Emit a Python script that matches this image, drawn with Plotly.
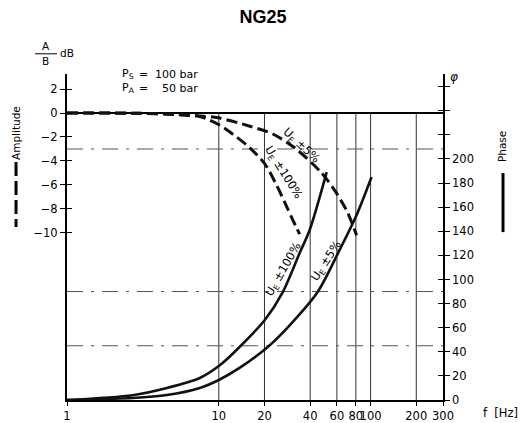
import numpy as np
import plotly.graph_objects as go

# amplitude curves, dB
f_amp_5 = [1, 3, 5, 7.5, 9.9, 16, 22.7, 31.6, 47.6, 59.8, 70.6, 80.9]
db_amp_5 = [0, -0.02, -0.1, -0.25, -0.4, -1.1, -1.75, -2.9, -5.0, -6.7, -8.3, -10.2]
f_amp_100 = [1, 3, 5, 7.5, 10.1, 13.1, 16, 20, 24, 28, 30.7, 34.1]
db_amp_100 = [0, -0.03, -0.12, -0.3, -1.0, -2.0, -2.9, -4.2, -6.0, -7.8, -8.9, -10.1]

# phase curves, degrees
f_ph_100 = [1, 2.7, 4.55, 7.5, 10.2, 13.7, 20.1, 26.4, 34.1, 39.7, 51.4]
ph_100 = [0, 4, 10, 18.3, 29, 44, 66.4, 89.6, 122, 141, 189]
f_ph_5 = [1, 2.7, 4.55, 7.5, 10, 13.7, 21, 29.3, 44.8, 62.5, 80.9, 101.5]
ph_5 = [0, 1.7, 4.1, 10, 16.6, 26.6, 44, 62, 89.6, 124.5, 153.5, 185]

# axes
x_ticks = [1, 10, 20, 40, 60, 80, 100, 200, 300]
grid_f = [10, 20, 40, 60, 80, 100, 200]
db_ticks = [2, 0, -2, -4, -6, -8, -10]
ph_ticks = list(range(0, 261, 20))
ph_labels = [str(v) if v <= 200 else ' ' for v in ph_ticks]
ref_db = [-3]
ref_ph = [45, 90]

DB_RANGE = [-23.92, 3.25]
PH_RANGE = [0, 270.5]
FONT = 'DejaVu Sans'

fig = go.Figure()

# vertical grid below the 0 dB line
gx, gy = [], []
for f in grid_f:
    gx += [f, f, None]
    gy += [DB_RANGE[0], 0, None]
fig.add_trace(go.Scatter(x=gx, y=gy, mode='lines',
                         line=dict(color='#333', width=1), hoverinfo='skip'))

# dash-dot reference lines
dashdot = '16px,8px,3px,8px'
for v in ref_db:
    fig.add_trace(go.Scatter(x=[1, 300], y=[v, v], mode='lines',
                             line=dict(color='#555', width=1, dash=dashdot), hoverinfo='skip'))
for v in ref_ph:
    fig.add_trace(go.Scatter(x=[1, 300], y=[v, v], mode='lines', yaxis='y2',
                             line=dict(color='#555', width=1, dash=dashdot), hoverinfo='skip'))

# amplitude (dashed)
for fx, dby in [(f_amp_5, db_amp_5), (f_amp_100, db_amp_100)]:
    fig.add_trace(go.Scatter(x=fx, y=dby, mode='lines',
                             line=dict(color='#111', width=3, dash='11px,5px',
                                       shape='spline', smoothing=0.8)))

# phase (solid)
for fx, py in [(f_ph_100, ph_100), (f_ph_5, ph_5)]:
    fig.add_trace(go.Scatter(x=fx, y=py, mode='lines', yaxis='y2',
                             line=dict(color='#111', width=2.6,
                                       shape='spline', smoothing=0.8)))

# empty traces so the tick-cross axes get drawn
fig.add_trace(go.Scatter(x=[None], y=[None], yaxis='y3'))
fig.add_trace(go.Scatter(x=[None], y=[None], yaxis='y4'))

tickfont = dict(family=FONT, size=11.5, color='black')

fig.update_layout(
    width=524, height=423,
    margin=dict(l=67, r=81, t=74, b=23, autoexpand=False),
    paper_bgcolor='white', plot_bgcolor='white',
    showlegend=False,
    title=dict(text='<b>NG25</b>', x=0.502, y=0.96, xanchor='center', yanchor='middle',
               font=dict(family='Liberation Sans', size=18, color='black')),
    xaxis=dict(type='log', range=[0, np.log10(300)], tickvals=x_ticks,
               ticktext=[str(v) for v in x_ticks], ticks='outside', ticklen=4,
               tickangle=0, automargin=False,
               tickcolor='black', showline=True, linecolor='black', linewidth=1.5,
               showgrid=False, zeroline=False, tickfont=tickfont),
    yaxis=dict(range=DB_RANGE, side='left', tickvals=db_ticks, ticks='outside',
               ticklen=5, tickcolor='black', showline=True, linecolor='black',
               automargin=False,
               linewidth=2, showgrid=False, zeroline=True, zerolinecolor='black',
               zerolinewidth=1.6, tickfont=tickfont),
    yaxis2=dict(range=PH_RANGE, overlaying='y', side='right', tickvals=ph_ticks,
                ticktext=ph_labels, ticks='outside', ticklen=5, tickcolor='black',
                automargin=False,
                showline=True, linecolor='black', linewidth=1.5, showgrid=False,
                zeroline=False, tickfont=tickfont),
    yaxis3=dict(range=DB_RANGE, overlaying='y', side='left', tickvals=db_ticks,
                ticks='inside', ticklen=5, tickcolor='black', showticklabels=False,
                automargin=False,
                showline=False, showgrid=False, zeroline=False),
    yaxis4=dict(range=PH_RANGE, overlaying='y', side='right', tickvals=ph_ticks,
                ticks='inside', ticklen=5, tickcolor='black', showticklabels=False,
                automargin=False,
                showline=False, showgrid=False, zeroline=False),
)

lab = dict(family=FONT, size=11.5, color='black')
small = dict(family=FONT, size=10.5, color='black')
pfont = dict(family=FONT, size=11, color='black')
ann = []

# curve labels
curve_labels = [
    ('U<sub>E</sub> ±5%', 35.0, -2.7, 'y', 43),
    ('U<sub>E</sub> ±100%', 26.6, -5.0, 'y', 58),
    ('U<sub>E</sub> ±100%', 26.7, 107.9, 'y2', -60),
    ('U<sub>E</sub> ±5%', 51.4, 115.4, 'y2', -57),
]
for txt, f, v, yr, ang in curve_labels:
    ann.append(dict(xref='x', yref=yr, x=np.log10(f), y=v, text=txt, textangle=ang,
                    xanchor='center', yanchor='middle', showarrow=False, font=lab))


def note(x, y, text, font=lab, xa='center', angle=0):
    return dict(xref='paper', yref='paper', x=x, y=y, text=text, xanchor=xa,
                yanchor='middle', textangle=angle, showarrow=False, font=font)


# pressure note
ann += [
    note(0.141, 1.0, 'P<sub>S</sub>', pfont, xa='left'),
    note(0.203, 1.0, '=', pfont),
    note(0.355, 1.0, '100 bar', pfont, xa='right'),
    note(0.141, 0.957, 'P<sub>A</sub>', pfont, xa='left'),
    note(0.203, 0.957, '=', pfont),
    note(0.355, 0.957, '50 bar', pfont, xa='right'),
]

# axis captions
ann += [
    note(-0.0559, 1.085, 'A', small),
    note(-0.0559, 1.040, 'B', small),
    note(0.0013, 1.064, 'dB', small),
    note(1.029, 0.991, '<i>φ</i>', dict(family=FONT, size=12, color='black')),
    note(1.1, -0.04, 'f  [Hz]', xa='left'),
    note(-0.1356, 0.819, 'Amplitude', small, angle=-90),
    note(1.157, 0.776, 'Phase', small, angle=-90),
]
fig.update_layout(annotations=ann)

# fraction bar and legend keys
fig.add_shape(type='line', xref='paper', yref='paper', x0=-0.085, x1=-0.0266,
              y0=1.062, y1=1.062, line=dict(color='black', width=1))
fig.add_shape(type='line', xref='paper', yref='paper', x0=-0.1356, x1=-0.1356,
              y0=0.730, y1=0.531, line=dict(color='black', width=3, dash='14px,5px'))
fig.add_shape(type='line', xref='paper', yref='paper', x0=1.1596, x1=1.1596,
              y0=0.696, y1=0.515, line=dict(color='black', width=3))

# page body has a default 8px margin; drop it so the figure fills the window
fig.write_html('out.html', config={'displayModeBar': False},
               post_script="document.body.style.margin='0';")
